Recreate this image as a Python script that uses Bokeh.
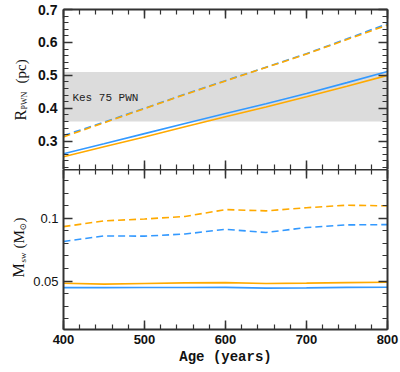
from bokeh.plotting import figure
from bokeh.models import (Range1d, SingleIntervalTicker, LinearAxis, BoxAnnotation,
                          Label, CustomJSTickFormatter)
from bokeh.core.properties import value
from bokeh.layouts import column, row
from bokeh.embed import file_html
from bokeh.resources import INLINE
import math

# ---------------- data ----------------
age = [400, 450, 500, 550, 600, 650, 700, 750, 800]

# top panel: PWN radius (pc)
r_blue_solid = [0.262, 0.292, 0.323, 0.354, 0.384, 0.414, 0.445, 0.478, 0.512]
r_orange_solid = [0.253, 0.283, 0.313, 0.344, 0.374, 0.404, 0.435, 0.467, 0.500]
r_blue_dash = [0.317, 0.358, 0.400, 0.443, 0.484, 0.525, 0.566, 0.611, 0.657]
r_orange_dash = [0.313, 0.356, 0.399, 0.442, 0.483, 0.524, 0.565, 0.609, 0.653]

# Kes 75 PWN observed radius band
kes_low, kes_high = 0.36, 0.51
kes_text = "Kes 75 PWN"

# bottom panel: swept-up mass (Msun)
m_blue_solid = [0.0447, 0.0447, 0.0448, 0.0448, 0.0449, 0.0443, 0.0445, 0.0449, 0.0450]
m_orange_solid = [0.0482, 0.0475, 0.0480, 0.0485, 0.0487, 0.0480, 0.0483, 0.0487, 0.0490]
m_blue_dash = [0.0816, 0.0860, 0.0858, 0.0875, 0.0913, 0.0887, 0.0927, 0.0948, 0.0950]
m_orange_dash = [0.0934, 0.0980, 0.0995, 0.1015, 0.1070, 0.1060, 0.1085, 0.1105, 0.1100]

x_title = "Age (years)"
r_title = ["R", "PWN", "(pc)"]
m_title = ["M", "sw", "(M", "⊙", ")"]

# ---------------- style ----------------
BLUE = "#3399ff"
ORANGE = "#ffaa00"
AXIS = "#333333"
TXT = "#111111"
LW = 1.6
DASH = "7 4"
SERIF = "Liberation Serif"

TITLE_W = 30          # width of the strip holding the rotated y titles
FRAME_H = 160
TOP_B = 9

x_range = Range1d(400, 800)


def make_axis(ticker, show_labels, font_size="13px", bold=True, line=True, fmt=None,
              standoff=5):
    ax = LinearAxis(ticker=ticker)
    ax.major_tick_in = 9
    ax.major_tick_out = 0
    ax.minor_tick_in = 5
    ax.minor_tick_out = 0
    ax.major_tick_line_color = AXIS
    ax.minor_tick_line_color = AXIS
    ax.major_tick_line_width = 1.5
    ax.minor_tick_line_width = 1.2
    ax.axis_line_color = AXIS if line else None
    ax.axis_line_width = 2
    if show_labels:
        ax.major_label_text_font = "Liberation Sans"
        ax.major_label_text_font_size = font_size
        ax.major_label_text_font_style = "bold" if bold else "normal"
        ax.major_label_text_color = TXT
        ax.major_label_standoff = standoff
        if fmt is not None:
            ax.formatter = fmt
    else:
        ax.formatter = CustomJSTickFormatter(code="return '';")
        ax.major_label_text_font_size = "0px"
        ax.major_label_standoff = 0
    return ax


yfmt = CustomJSTickFormatter(code="return String(+tick.toFixed(3));")


def base_fig(y_range, top_border, bottom_border):
    p = figure(frame_width=324, frame_height=FRAME_H, x_range=x_range, y_range=y_range,
               x_axis_location=None, y_axis_location=None,
               min_border_left=63 - TITLE_W, min_border_right=13,
               min_border_top=top_border, min_border_bottom=bottom_border,
               output_backend="svg", toolbar_location=None,
               background_fill_color="white", border_fill_color="white")
    p.outline_line_color = None
    p.grid.visible = False
    return p


# ---------------- top panel ----------------
p1 = base_fig(Range1d(0.214, 0.7002), TOP_B, 0)
yt1 = SingleIntervalTicker(interval=0.1, num_minor_ticks=5)
xt = SingleIntervalTicker(interval=100, num_minor_ticks=5)
p1.add_layout(make_axis(yt1, True, "14px", True, fmt=yfmt, standoff=6), "left")
p1.add_layout(make_axis(yt1, False), "right")
p1.add_layout(make_axis(xt, False), "above")
p1.add_layout(make_axis(xt, False, line=False), "below")

p1.add_layout(BoxAnnotation(bottom=kes_low, top=kes_high, fill_color="#dcdcdc",
                            fill_alpha=1.0, line_color=None, level="underlay"))
p1.add_layout(Label(x=411, y=0.43, text=kes_text, text_font="Liberation Mono",
                    text_font_size="11px", text_baseline="middle", text_color="#222222"))

p1.line(age, r_blue_solid, line_color=BLUE, line_width=LW)
p1.line(age, r_orange_solid, line_color=ORANGE, line_width=LW)
p1.line(age, r_blue_dash, line_color=BLUE, line_width=LW, line_dash=DASH)
p1.line(age, r_orange_dash, line_color=ORANGE, line_width=LW, line_dash=DASH)

# ---------------- bottom panel ----------------
p2 = base_fig(Range1d(0.0113, 0.139), 0, 0)
yt2 = SingleIntervalTicker(interval=0.05, num_minor_ticks=5)
xt2 = SingleIntervalTicker(interval=100, num_minor_ticks=5)
p2.add_layout(make_axis(yt2, True, "13px", False, fmt=yfmt, standoff=5), "left")
p2.add_layout(make_axis(yt2, False), "right")
p2.add_layout(make_axis(xt2, False), "above")
xb = make_axis(xt2, True, "13px", True)
xb.axis_label = x_title
xb.axis_label_text_font = "Liberation Mono"
xb.axis_label_text_font_size = "14px"
xb.axis_label_text_font_style = "bold"
xb.axis_label_text_color = TXT
xb.axis_label_standoff = 2
p2.add_layout(xb, "below")

p2.line(age, m_blue_solid, line_color=BLUE, line_width=LW)
p2.line(age, m_orange_solid, line_color=ORANGE, line_width=LW)
p2.line(age, m_blue_dash, line_color=BLUE, line_width=LW, line_dash=DASH)
p2.line(age, m_orange_dash, line_color=ORANGE, line_width=LW, line_dash=DASH)

# ---------------- rotated y titles (strip to the left, pixel coordinates) ----------------
total_h = TOP_B + 2 * FRAME_H + 40
tf = figure(width=TITLE_W, height=total_h, x_range=Range1d(0, TITLE_W),
            y_range=Range1d(0, total_h), x_axis_location=None, y_axis_location=None,
            min_border=0, output_backend="svg", toolbar_location=None,
            background_fill_color="white", border_fill_color="white")
tf.outline_line_color = None
tf.grid.visible = False


def title_text(x, y_from_top, text, size, font=SERIF):
    tf.text(x=[x], y=[total_h - y_from_top], text=[text], angle=math.pi / 2,
            text_font=value(font), text_font_size=value(size),
            text_baseline="middle", text_align="left", text_color=TXT)


# R_PWN (pc)  -- top panel centre
title_text(20, 120, r_title[0], "16px")
title_text(24, 109, r_title[1], "8px")
title_text(20, 83, r_title[2], "15px")
# M_sw (M_sun) -- bottom panel centre
title_text(18, 277, m_title[0], "16px")
title_text(22, 262, m_title[1], "9px")
title_text(18, 248, m_title[2], "15px")
title_text(22, 230, m_title[3], "9px", "DejaVu Serif")
title_text(18, 222, m_title[4], "15px")

layout = row(tf, column(p1, p2, spacing=0), spacing=0)
open("out.html", "w").write(file_html(layout, INLINE))
